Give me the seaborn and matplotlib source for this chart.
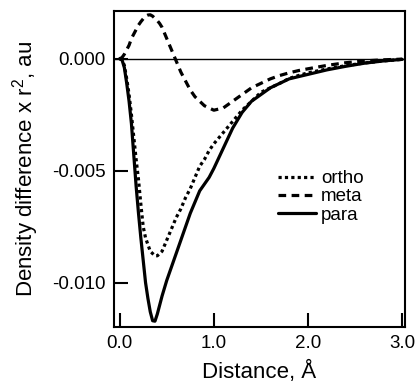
import matplotlib
matplotlib.use('Agg')
import numpy as np
import pandas as pd
import matplotlib.pyplot as plt
from matplotlib.ticker import FormatStrFormatter
import seaborn as sns

# valores (distancia en Å, diferencia de densidad x r^2 en au)
distancia = [0.0, 0.025, 0.05, 0.075, 0.1, 0.125, 0.15, 0.175, 0.2, 0.225, 0.25, 0.275,
             0.3, 0.325, 0.35, 0.375, 0.4, 0.425, 0.45, 0.5, 0.55, 0.6, 0.65, 0.7, 0.75,
             0.8, 0.85, 0.9, 0.95, 1.0, 1.1, 1.2, 1.3, 1.4, 1.5, 1.6, 1.7, 1.8, 1.9, 2.0,
             2.2, 2.4, 2.6, 2.8, 3.0]
ortho = [0.0, -0.00005, -0.0003, -0.0009, -0.0016, -0.0025, -0.0035, -0.0045, -0.0054,
         -0.0065, -0.0075, -0.0080, -0.0083, -0.0086, -0.0087, -0.0088, -0.0088, -0.0087,
         -0.0086, -0.0081, -0.0076, -0.0071, -0.0067, -0.0062, -0.0058, -0.0053, -0.0048,
         -0.0045, -0.0041, -0.0038, -0.0033, -0.0028, -0.0023, -0.0019, -0.0015, -0.0013,
         -0.0011, -0.00088, -0.00075, -0.00063, -0.00046, -0.00031, -0.00019, -0.0001,
         -0.00003]
meta = [0.0, 0.00005, 0.0002, 0.0004, 0.0006, 0.0009, 0.0011, 0.0013, 0.0015, 0.00165,
        0.00178, 0.0019, 0.00195, 0.00196, 0.0019, 0.0018, 0.0017, 0.00157, 0.0014, 0.0009,
        0.0004, -0.0001, -0.0006, -0.0010, -0.0014, -0.0017, -0.0019, -0.0021, -0.0022,
        -0.0023, -0.0022, -0.0019, -0.0016, -0.0013, -0.0011, -0.0009, -0.00075, -0.00063,
        -0.00053, -0.00045, -0.0003, -0.00018, -0.0001, -0.00005, -0.00002]
para = [0.0, -0.00005, -0.0004, -0.0011, -0.0019, -0.0029, -0.0043, -0.0057, -0.0069,
        -0.0080, -0.0090, -0.0100, -0.0107, -0.0113, -0.0117, -0.01172, -0.0114, -0.0110,
        -0.0106, -0.0099, -0.0093, -0.0087, -0.0081, -0.0075, -0.0069, -0.0064, -0.0059,
        -0.0056, -0.0053, -0.0049, -0.0040, -0.0031, -0.0024, -0.0019, -0.0016, -0.0013,
        -0.0011, -0.0009, -0.0008, -0.0007, -0.0005, -0.00034, -0.0002, -0.0001, -0.00003]
series = ['ortho', 'meta', 'para']

df = pd.DataFrame({
    'distancia': distancia * 3,
    'valor': ortho + meta + para,
    'serie': np.repeat(series, len(distancia)),
})

sns.set_theme(style="ticks")
plt.rcParams['font.family'] = ['Liberation Sans', 'DejaVu Sans']
plt.rcParams['mathtext.default'] = 'regular'
plt.rcParams['axes.unicode_minus'] = False
plt.rcParams['text.color'] = 'black'
plt.rcParams['axes.labelcolor'] = 'black'

fig = plt.figure(figsize=(4.15, 3.83), dpi=100)
ax = fig.add_axes([0.2747, 0.1462, 0.7013, 0.8251])

sns.lineplot(data=df, x='distancia', y='valor', hue='serie', style='serie',
             hue_order=series, style_order=series,
             palette={'ortho': 'black', 'meta': 'black', 'para': 'black'},
             dashes={'ortho': (1, 1), 'meta': (2.4, 1.7), 'para': ''},
             estimator=None, linewidth=2.3, ax=ax)

ax.axhline(0, color='black', linewidth=1.0, zorder=1)

ax.set_xlim(-0.06, 3.03)
ax.set_ylim(-0.01198, 0.00213)
ax.set_xticks([0, 1, 2, 3])
ax.set_yticks([-0.010, -0.005, 0.0])
ax.xaxis.set_major_formatter(FormatStrFormatter('%.1f'))
ax.yaxis.set_major_formatter(FormatStrFormatter('%.3f'))
ax.tick_params(direction='in', length=10, width=1.5, labelsize=13.5,
               color='black', labelcolor='black')
ax.tick_params(axis='y', pad=6)
ax.tick_params(axis='x', pad=6)
for s in ax.spines.values():
    s.set_linewidth(1.5)
    s.set_color('black')
    s.set_visible(True)

ax.set_xlabel('Distance, Å', fontsize=16, labelpad=6)
ax.set_ylabel('Density difference x r$^{2}$, au', fontsize=16, labelpad=8)

handles, labels = ax.get_legend_handles_labels()
leg = ax.legend(handles, labels, loc='upper left', bbox_to_anchor=(0.564, 0.496),
                frameon=False, fontsize=13.5, handlelength=2.0, handletextpad=0.3,
                labelspacing=0.05, borderpad=0, borderaxespad=0)
for t in leg.get_texts():
    t.set_color('black')

fig.savefig('out.png', dpi=100)
plt.close(fig)
